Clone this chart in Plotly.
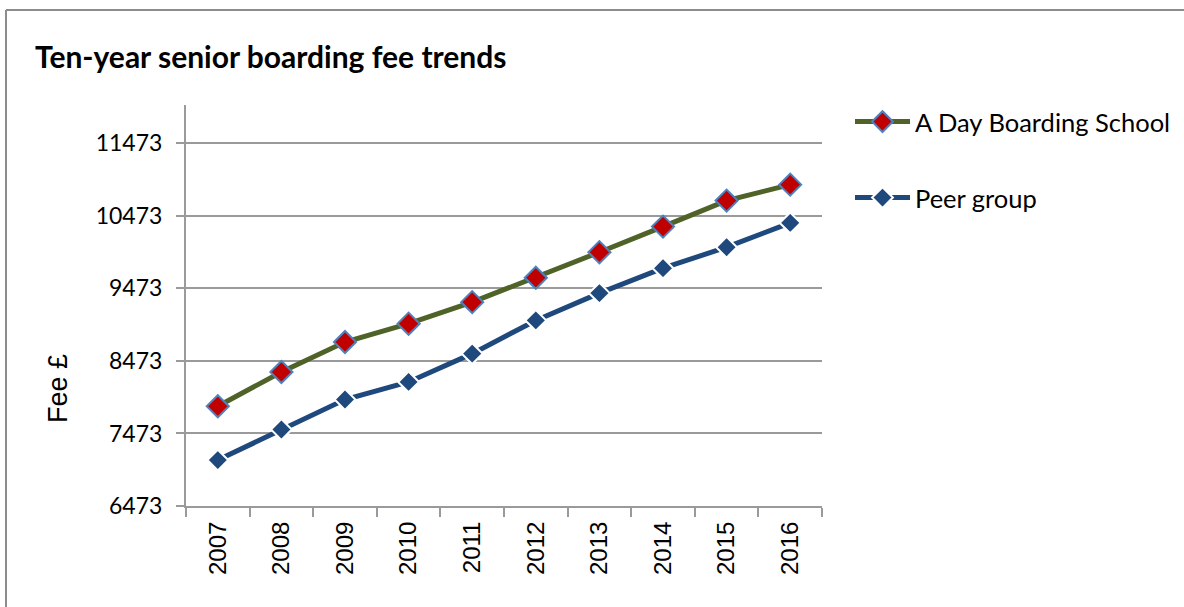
import plotly.graph_objects as go

# Fee data (GBP) for ten school years
years = ["2007", "2008", "2009", "2010", "2011", "2012", "2013", "2014", "2015", "2016"]
school_fees = [7848, 8320, 8733, 8986, 9283, 9619, 9971, 10324, 10682, 10902]
peer_fees = [7106, 7528, 7941, 8183, 8573, 9031, 9407, 9751, 10040, 10375]
y_ticks = [6473, 7473, 8473, 9473, 10473, 11473]

W, H = 1184, 607
L, R, T, B = 186, 362, 105, 101
pw, ph = W - L - R, H - T - B

def px_x(x):
    return (x - L) / pw

def px_y(y):
    return (H - B - y) / ph

GRID = "#9a9a9a"

fig = go.Figure()

fig.add_trace(go.Scatter(
    x=years, y=school_fees, name="A Day Boarding School",
    mode="lines+markers",
    line=dict(color="#4F6228", width=5),
    marker=dict(symbol="diamond", size=17, color="#C00000",
                line=dict(color="#4F81BD", width=2)),
    legend="legend",
))
fig.add_trace(go.Scatter(
    x=years, y=peer_fees, name="Peer group",
    mode="lines+markers",
    line=dict(color="#1F497D", width=5),
    marker=dict(symbol="diamond", size=16, color="#1F497D",
                line=dict(color="#FFFFFF", width=2)),
    legend="legend2",
))

legend_style = dict(
    xref="container", yref="container",
    xanchor="left", yanchor="middle",
    font=dict(family="Lato", size=25.5, color="#000000"),
    bgcolor="rgba(0,0,0,0)", itemwidth=55,
)

fig.update_layout(
    width=W, height=H,
    margin=dict(l=L, r=R, t=T, b=B, pad=0, autoexpand=False),
    paper_bgcolor="#FFFFFF",
    plot_bgcolor="#FFFFFF",
    title=dict(
        text="<b>Ten-year senior boarding fee trends</b>",
        x=35 / W, xanchor="left", xref="container",
        y=1 - 57 / H, yanchor="middle", yref="container",
        font=dict(family="Lato", size=30, color="#000000"),
    ),
    xaxis=dict(
        type="category",
        range=[-0.5, 9.5],
        tickson="boundaries",
        ticks="outside", ticklen=9, tickcolor=GRID, tickwidth=2,
        showline=True, linecolor=GRID, linewidth=2,
        showgrid=False, zeroline=False,
        tickangle=-90,
        tickfont=dict(family="Liberation Sans", size=24, color="#000000"),
        ticklabelstandoff=4,
        fixedrange=True,
    ),
    yaxis=dict(
        range=[6473, 12000],
        tickvals=y_ticks,
        ticktext=[str(v) for v in y_ticks],
        ticks="outside", ticklen=8, tickcolor=GRID, tickwidth=2,
        showline=True, linecolor=GRID, linewidth=2,
        showgrid=True, gridcolor=GRID, gridwidth=2,
        zeroline=False,
        tickfont=dict(family="Lato", size=23, color="#000000"),
        ticklabelstandoff=9,
        fixedrange=True,
    ),
    legend=dict(x=850 / W, y=1 - 122 / H, **legend_style),
    legend2=dict(x=850 / W, y=1 - 198 / H, **legend_style),
    showlegend=True,
)

# y-axis title
fig.add_annotation(
    text="Fee £", textangle=-90,
    xref="paper", yref="paper",
    x=px_x(58), y=px_y(389), xanchor="center", yanchor="middle",
    showarrow=False,
    font=dict(family="Liberation Sans", size=27, color="#000000"),
)

# chart frame (top and left edges)
fig.add_shape(type="line", xref="paper", yref="paper",
              x0=px_x(6), x1=px_x(W), y0=px_y(10), y1=px_y(10),
              line=dict(color="#8c8c8c", width=2))
fig.add_shape(type="line", xref="paper", yref="paper",
              x0=px_x(6), x1=px_x(6), y0=px_y(10), y1=px_y(H + 5),
              line=dict(color="#8c8c8c", width=2))

fig.write_html("out.html", config={"displayModeBar": False})
